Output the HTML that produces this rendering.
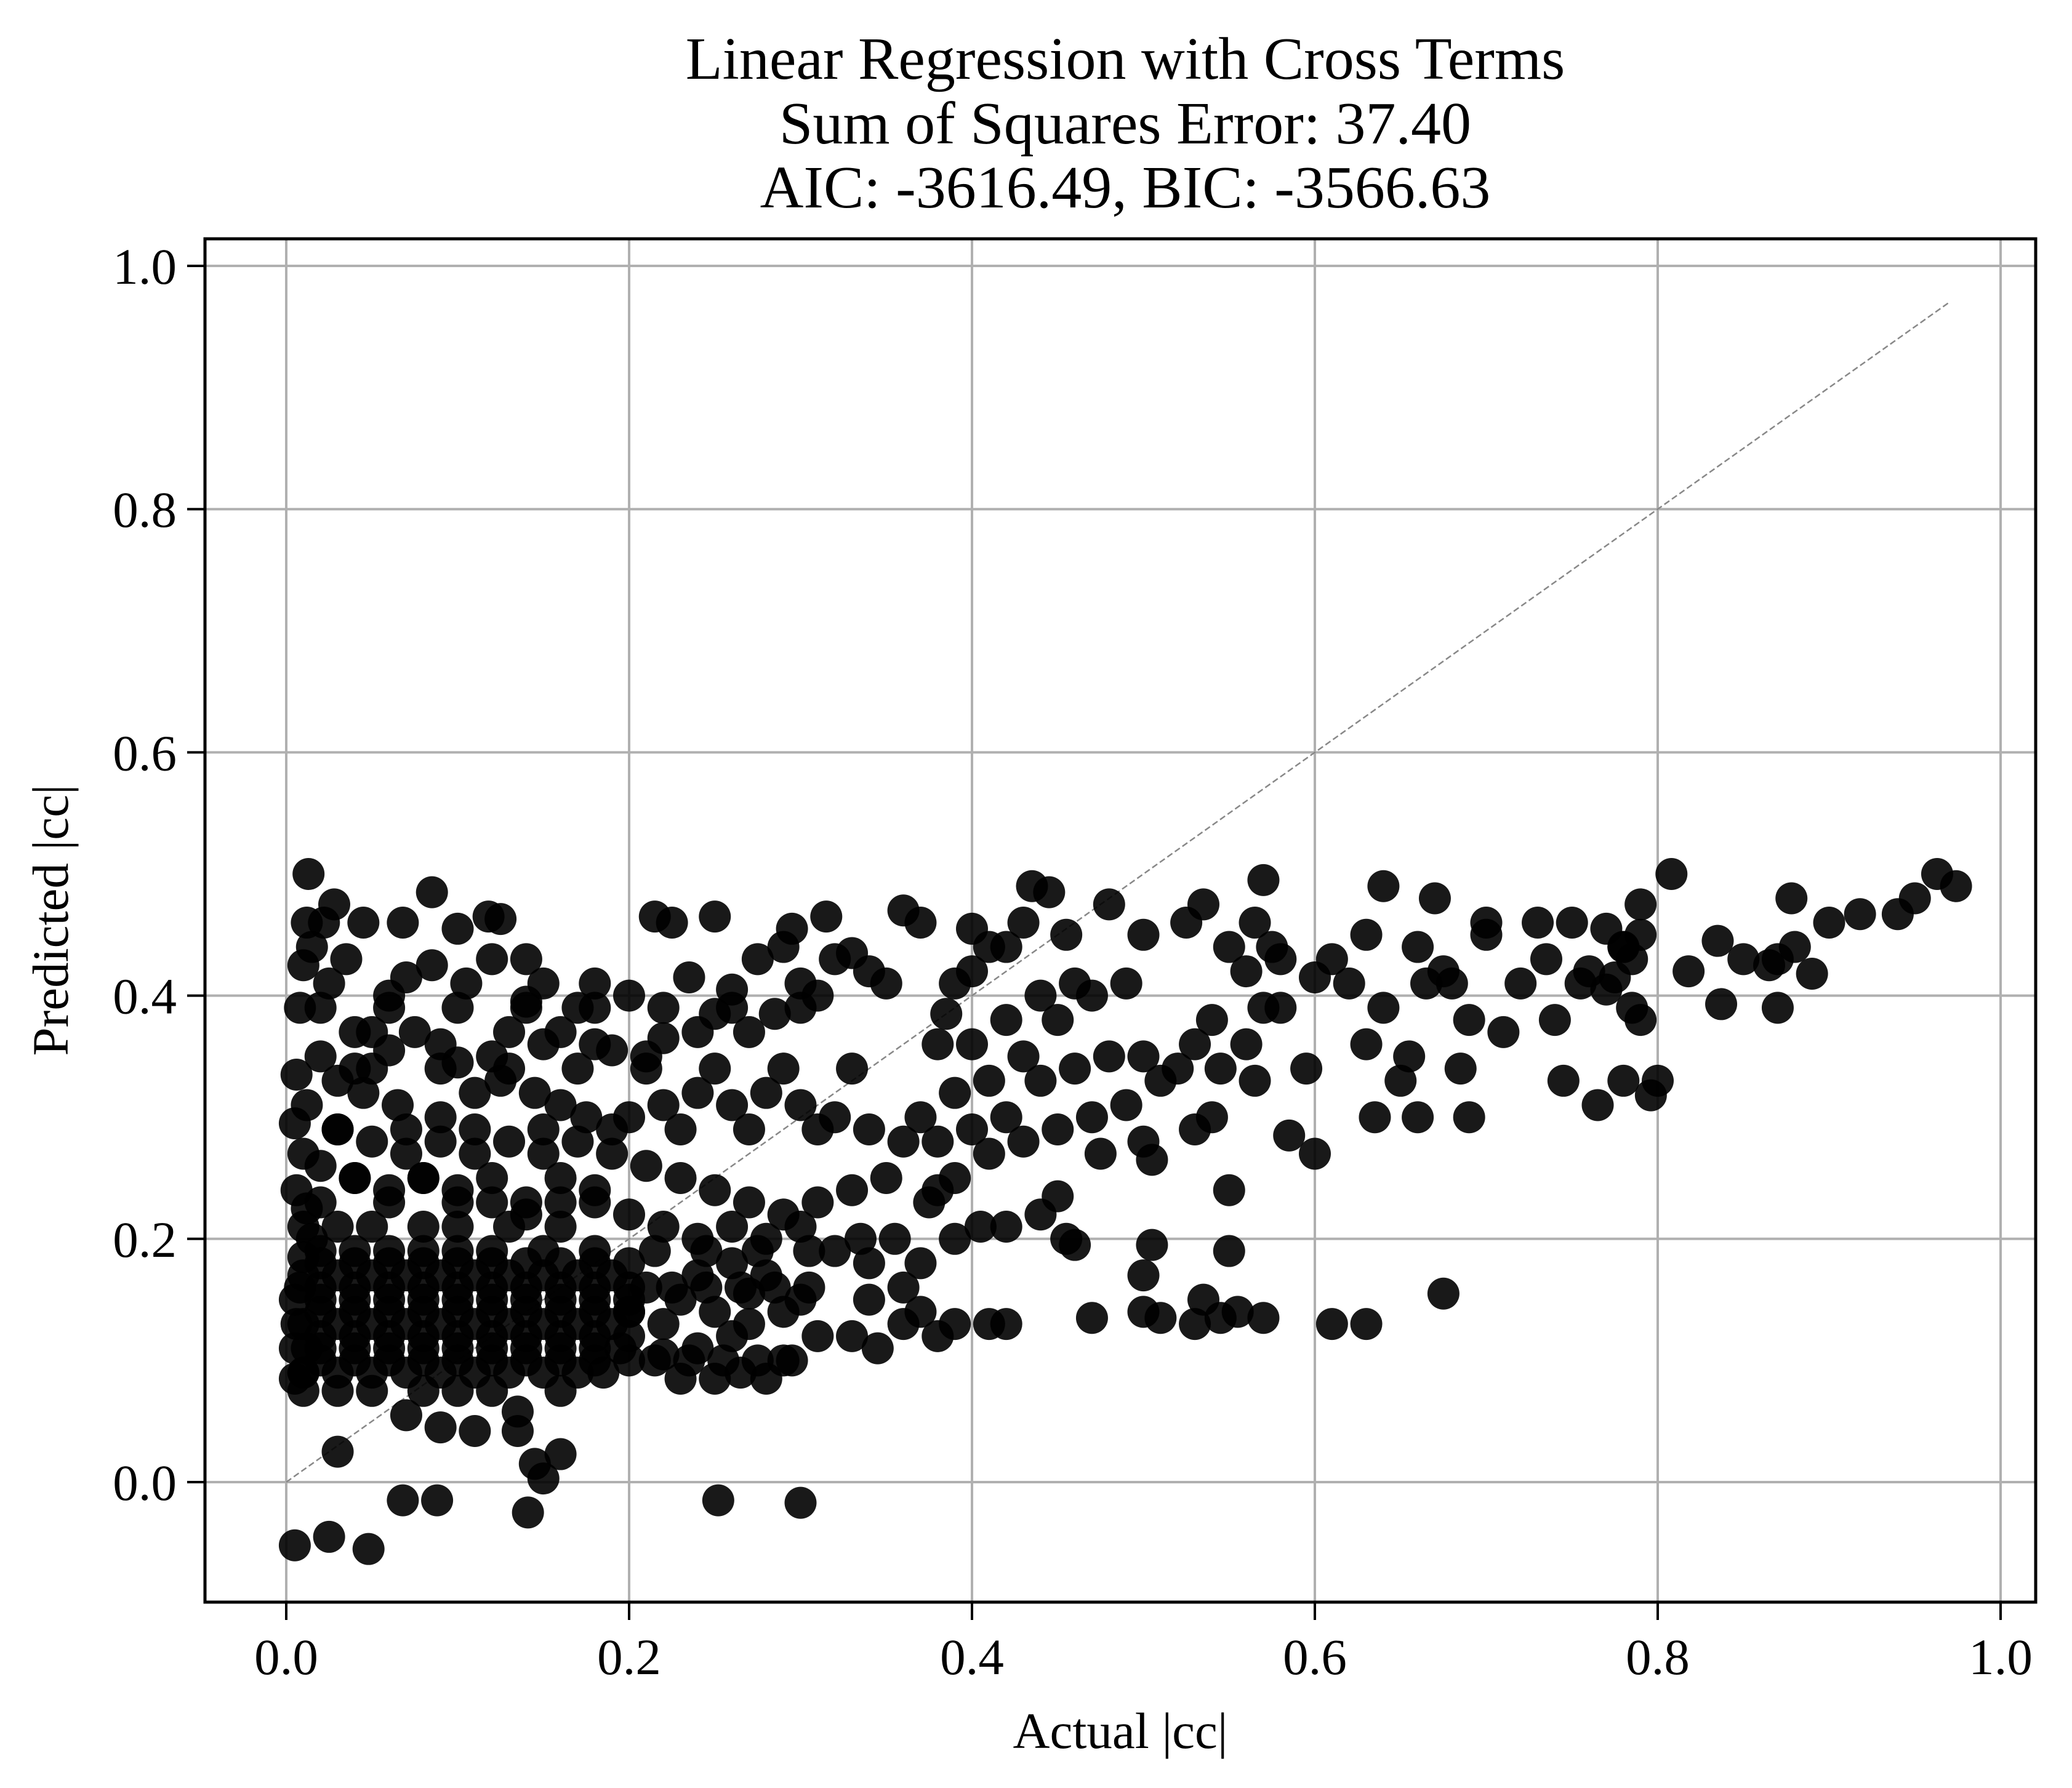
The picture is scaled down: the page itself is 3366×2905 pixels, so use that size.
<!DOCTYPE html>
<html><head><meta charset="utf-8"><style>
html,body{margin:0;padding:0;background:#fff;}
svg{display:block;font-family:"Liberation Serif",serif;}
</style></head><body>
<svg id="chart" width="3366" height="2905" viewBox="0 0 3366 2905">
<rect x="0" y="0" width="3366" height="2905" fill="#fff"/>
<g font-size="98" text-anchor="middle">
<text x="1828" y="128">Linear Regression with Cross Terms</text>
<text x="1828" y="233">Sum of Squares Error: 37.40</text>
<text x="1828" y="337">AIC: -3616.49, BIC: -3566.63</text>
</g>
<g id="grid"></g>
<g id="diag"></g>
<g id="points"></g>
<rect x="333" y="388" width="2974" height="2215" fill="none" stroke="#000" stroke-width="5"/>
<g id="xticks"></g>
<g id="yticks"></g>
<text x="1820" y="2840" font-size="83" text-anchor="middle">Actual |cc|</text>
<text x="0" y="0" font-size="83" text-anchor="middle" transform="translate(110,1495) rotate(-90)">Predicted |cc|</text>
</svg>
<script>
const xTicks=[0,0.2,0.4,0.6,0.8,1.0];
const yTicks=[0,0.2,0.4,0.6,0.8,1.0];
const xTickLabels=["0.0","0.2","0.4","0.6","0.8","1.0"];
const yTickLabels=["0.0","0.2","0.4","0.6","0.8","1.0"];
const actual=[0.005,0.025,0.048,0.068,0.088,0.141,0.252,0.3,0.03,0.15,0.145,0.16,0.07,0.09,0.11,0.135,0.135,
0.01,0.008,0.006,0.012,0.005,0.01,0.006,0.012,0.015,0.01,0.008,0.006,0.012,0.01,0.005,0.013,0.015,0.012,
0.028,0.022,0.045,0.035,0.085,0.068,0.1,0.118,0.125,0.12,0.085,0.07,0.06,0.05,0.04,0.025,0.105,0.14,0.15,0.14,0.17,0.18,0.2,0.215,0.225,0.25,0.235,0.26,0.275,0.29,0.295,0.315,0.32,0.33,0.34,0.35,0.3,0.31,0.285,0.27,0.25,0.24,0.22,0.21,0.19,0.18,0.16,0.15,0.13,0.12,0.1,0.09,0.075,0.06,0.04,0.03,0.02,0.045,0.065,0.09,0.11,0.125,0.145,0.16,0.175,0.2,0.22,0.24,0.26,0.28,0.3,0.32,0.34,0.36,0.35,0.33,0.31,0.29,0.27,0.25,0.23,0.21,0.19,0.17,0.15,0.13,0.11,0.09,0.07,0.05,0.03,0.02,0.04,0.06,0.08,0.1,0.12,0.14,0.16,0.18,0.2,0.22,0.24,0.26,0.28,0.3,0.32,0.34,0.36,0.37,0.36,0.38,0.39,0.41,0.42,0.34,0.33,0.345,0.31,0.3,0.29,0.28,0.265,0.25,0.23,0.22,0.24,0.26,0.27,0.25,0.23,0.21,0.2,0.22,0.24,0.26,0.28,0.27,0.29,
0.01,0.03,0.05,0.07,0.09,0.11,0.13,0.15,0.17,0.185,
0.005,0.02,0.04,0.06,0.08,0.1,0.12,0.14,0.16,0.18,0.195,
0.01,0.03,0.05,0.07,0.09,0.11,0.13,0.15,0.17,0.19,
0.005,0.02,0.04,0.06,0.08,0.1,0.12,0.14,0.16,0.18,0.2,
0.01,0.03,0.05,0.07,0.09,0.11,0.13,0.15,0.17,0.19,
0.02,0.04,0.06,0.08,0.1,0.12,0.15,0.18,
0.01,0.03,0.05,0.08,0.1,0.13,0.16,
0.01,0.03,0.05,0.08,0.1,0.12,0.16,
0.02,0.04,0.06,0.08,0.1,0.12,0.14,0.16,0.18,0.2,
0.02,0.04,0.06,0.08,0.1,0.12,0.14,0.16,0.18,0.2,
0.02,0.04,0.06,0.08,0.1,0.12,0.14,0.16,0.18,0.2,
0.02,0.04,0.06,0.08,0.1,0.12,0.14,0.16,0.18,0.2,
0.02,0.04,0.06,0.08,0.1,0.12,0.14,0.16,0.18,0.2,
0.02,0.06,0.1,0.14,0.18,0.04,0.08,0.12,0.16,
0.03,0.07,0.11,0.15,0.19,0.23,0.27,0.31,0.05,0.09,0.13,0.17,0.21,0.25,0.29,0.33,0.02,0.06,0.1,0.14,0.18,0.22,0.26,0.3,
0.215,0.235,0.255,0.275,0.295,0.225,0.245,0.265,0.285,0.305,0.215,0.245,0.275,0.305,0.335,0.355,0.37,0.38,
0.36,0.37,0.385,0.4,0.41,0.42,0.43,0.435,0.445,0.455,0.48,0.4,0.39,0.38,0.4,0.42,0.44,0.46,0.47,0.49,0.5,0.45,0.43,0.41,0.39,0.37,0.38,0.4,0.42,0.44,0.46,0.48,0.5,0.51,0.49,0.47,0.45,0.43,0.41,0.39,0.375,0.39,0.405,0.42,0.44,0.45,0.455,0.46,0.475,0.5,0.505,0.5,0.505,0.5,0.51,0.47,0.53,0.535,0.545,0.555,0.57,0.55,0.55,0.53,0.54,0.52,0.53,0.54,0.525,0.535,0.55,0.56,0.57,0.575,0.58,0.565,0.57,0.58,0.56,0.545,0.565,0.585,0.595,0.6,0.61,0.62,0.6,0.61,0.63,0.63,0.64,0.64,0.63,0.635,0.65,0.655,0.66,0.66,0.665,0.67,0.675,0.68,0.675,0.685,0.69,0.69,0.7,0.7,0.71,0.72,0.73,0.735,0.74,0.745,0.75,0.755,0.76,0.765,0.77,0.78,0.78,0.785,0.79,0.79,0.8,0.78,0.796,0.808,0.79,0.785,0.775,0.77,
0.9,0.918,0.94,0.95,0.963,0.974,0.89,0.87,0.878,0.835,0.837,0.85,0.865,0.87,0.88,0.818];
const predicted=[-0.052,-0.045,-0.055,-0.015,-0.015,-0.025,-0.015,-0.017,0.025,0.003,0.015,0.023,0.055,0.045,0.042,0.042,0.058,
0.425,0.39,0.335,0.31,0.295,0.27,0.24,0.225,0.2,0.185,0.16,0.13,0.11,0.09,0.085,0.5,0.44,0.46,
0.475,0.46,0.46,0.43,0.485,0.46,0.455,0.465,0.463,0.43,0.425,0.415,0.4,0.37,0.37,0.41,0.41,0.43,0.41,0.395,0.39,0.41,0.4,0.465,0.46,0.465,0.415,0.405,0.43,0.44,0.455,0.465,0.43,0.435,0.42,0.41,0.41,0.4,0.385,0.37,0.385,0.37,0.365,0.35,0.355,0.36,0.37,0.36,0.37,0.35,0.345,0.36,0.37,0.355,0.34,0.33,0.35,0.32,0.31,0.3,0.32,0.33,0.32,0.31,0.3,0.3,0.31,0.32,0.31,0.32,0.31,0.3,0.29,0.28,0.25,0.24,0.23,0.22,0.23,0.24,0.25,0.26,0.27,0.28,0.27,0.28,0.27,0.28,0.27,0.28,0.29,0.26,0.25,0.24,0.25,0.24,0.23,0.22,0.23,0.24,0.22,0.21,0.2,0.21,0.2,0.21,0.19,0.18,0.16,0.14,0.13,0.12,0.13,0.13,0.13,0.15,0.12,0.11,0.12,0.15,0.1,0.085,0.09,0.085,0.085,0.105,0.11,0.12,0.13,0.14,0.15,0.16,0.14,0.13,0.17,0.18,0.17,0.155,0.14,
0.09,0.09,0.09,0.09,0.09,0.09,0.09,0.09,0.09,0.09,
0.11,0.11,0.11,0.11,0.11,0.11,0.11,0.11,0.11,0.11,0.11,
0.13,0.13,0.13,0.13,0.13,0.13,0.13,0.13,0.13,0.13,
0.15,0.15,0.15,0.15,0.15,0.15,0.15,0.15,0.15,0.15,0.15,
0.17,0.17,0.17,0.17,0.17,0.17,0.17,0.17,0.17,0.17,
0.19,0.19,0.19,0.19,0.19,0.19,0.19,0.19,
0.21,0.21,0.21,0.21,0.21,0.21,0.21,
0.075,0.075,0.075,0.075,0.075,0.075,0.075,
0.1,0.1,0.1,0.1,0.1,0.1,0.1,0.1,0.1,0.1,
0.12,0.12,0.12,0.12,0.12,0.12,0.12,0.12,0.12,0.12,
0.14,0.14,0.14,0.14,0.14,0.14,0.14,0.14,0.14,0.14,
0.16,0.16,0.16,0.16,0.16,0.16,0.16,0.16,0.16,0.16,
0.18,0.18,0.18,0.18,0.18,0.18,0.18,0.18,0.18,0.18,
0.23,0.23,0.23,0.23,0.23,0.25,0.25,0.25,0.25,
0.29,0.29,0.29,0.29,0.29,0.29,0.29,0.29,0.34,0.34,0.34,0.34,0.34,0.34,0.34,0.34,0.39,0.39,0.39,0.39,0.39,0.39,0.39,0.39,
0.1,0.1,0.1,0.1,0.1,0.16,0.16,0.16,0.16,0.16,0.19,0.19,0.19,0.19,0.2,0.2,0.18,0.24,
0.47,0.46,0.385,0.455,0.44,0.44,0.46,0.49,0.485,0.45,0.475,0.42,0.41,0.36,0.36,0.38,0.4,0.41,0.4,0.41,0.45,0.38,0.35,0.33,0.32,0.3,0.28,0.29,0.3,0.33,0.34,0.35,0.35,0.33,0.31,0.3,0.29,0.28,0.27,0.25,0.23,0.2,0.21,0.21,0.22,0.235,0.2,0.195,0.27,0.28,0.265,0.17,0.195,0.14,0.135,0.135,0.13,0.15,0.135,0.14,0.135,0.19,0.24,0.29,0.3,0.34,0.36,0.38,0.46,0.475,0.44,0.42,0.495,0.44,0.43,0.46,0.39,0.39,0.36,0.34,0.33,0.285,0.34,0.415,0.43,0.41,0.27,0.13,0.13,0.45,0.49,0.39,0.36,0.3,0.33,0.35,0.3,0.44,0.41,0.48,0.42,0.41,0.155,0.34,0.3,0.38,0.46,0.45,0.37,0.41,0.46,0.43,0.38,0.33,0.46,0.41,0.42,0.31,0.455,0.33,0.44,0.39,0.38,0.475,0.33,0.44,0.318,0.5,0.45,0.43,0.415,0.405,
0.46,0.467,0.467,0.48,0.5,0.49,0.418,0.39,0.48,0.445,0.393,0.43,0.425,0.43,0.44,0.42];
const NS="http://www.w3.org/2000/svg";
const X0=465,X1=3250,Y0=2408,Y1=432;
function sx(v){return X0+(X1-X0)*v;}
function sy(v){return Y0+(Y1-Y0)*v;}
function mk(tag,attrs,parent){const e=document.createElementNS(NS,tag);for(const k in attrs)e.setAttribute(k,attrs[k]);parent.appendChild(e);return e;}
const grid=document.getElementById('grid'),xt=document.getElementById('xticks'),yt=document.getElementById('yticks');
xTicks.forEach((t,i)=>{
 const g=mk('line',{x1:sx(t),x2:sx(t),y1:388,y2:2603,stroke:'#b0b0b0','stroke-width':4},grid);
 
 
 const tk=mk('line',{x1:sx(t),x2:sx(t),y1:2603,y2:2632,stroke:'#000','stroke-width':4},xt);
 
 
 const lb=mk('text',{x:sx(t),y:2720,'font-size':83,'text-anchor':'middle'},xt);
 lb.textContent=xTickLabels[i];
 
 
});
yTicks.forEach((t,i)=>{
 const g=mk('line',{x1:333,x2:3307,y1:sy(t),y2:sy(t),stroke:'#b0b0b0','stroke-width':4},grid);
 
 
 const tk=mk('line',{x1:304,x2:333,y1:sy(t),y2:sy(t),stroke:'#000','stroke-width':4},yt);
 
 
 const lb=mk('text',{x:287,y:sy(t)+29,'font-size':83,'text-anchor':'end'},yt);
 lb.textContent=yTickLabels[i];
 
 
});
const dl=mk('line',{x1:sx(0),y1:sy(0),x2:sx(0.97),y2:sy(0.97),stroke:'#888','stroke-width':2.5,'stroke-dasharray':'10 5'},document.getElementById('diag'));


const pts=document.getElementById('points');
for(let i=0;i<actual.length;i++){
 const c=mk('circle',{cx:sx(actual[i]),cy:sy(predicted[i]),r:26,fill:'#000','fill-opacity':0.9},pts);
 
 
}
</script>
</body></html>
